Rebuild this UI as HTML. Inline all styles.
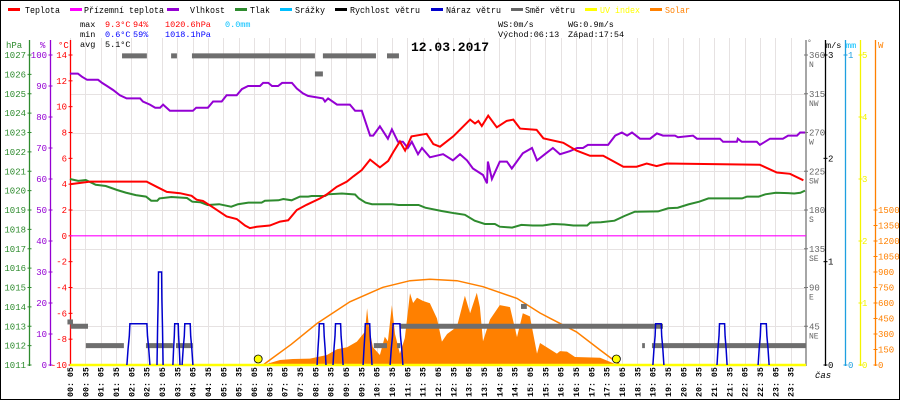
<!DOCTYPE html>
<html><head><meta charset="utf-8">
<style>
html,body{margin:0;padding:0;background:#fff;}
#wrap{width:900px;height:400px;position:relative;overflow:hidden;}
svg{display:block;font-family:"Liberation Mono",monospace;}
</style></head>
<body>
<div id="wrap">
<svg id="c" width="900" height="400" viewBox="0 0 900 400" xmlns="http://www.w3.org/2000/svg"></svg>
</div>
<script>
// ---- data ----
const tempTimes=[0.08,0.74,2.58,2.91,3.24,3.67,4.05,4.21,4.42,4.75,5.19,5.52,5.79,5.95,6.17,6.60,6.93,7.20,7.48,7.80,8.24,8.45,8.78,9.11,9.32,9.60,9.87,10.19,10.46,10.63,10.84,11.01,11.22,11.71,11.93,12.15,12.58,13.13,13.29,13.40,13.51,13.72,14.00,14.32,14.54,14.76,15.30,15.52,16.17,16.60,17.04,17.47,18.13,18.56,18.89,19.21,19.54,22.58,23.13,23.56,24.0];
const tempValues=[4.0,4.2,4.2,3.8,3.4,3.3,3.1,2.8,2.7,2.2,1.5,1.3,0.8,0.6,0.7,0.8,1.1,1.2,2.0,2.4,2.9,3.2,3.8,4.2,4.6,5.1,5.9,5.3,5.8,6.5,7.3,6.6,7.7,7.9,7.1,6.9,7.7,9.0,8.7,8.9,8.5,9.3,8.4,8.9,9.0,8.3,8.2,7.55,7.2,6.6,6.2,6.2,5.35,5.35,5.6,5.4,5.6,5.5,4.9,4.8,4.3];
const humTimes=[0.08,0.34,0.47,0.64,1.0,1.13,1.29,1.49,1.71,1.93,2.37,2.46,2.69,2.86,3.02,3.12,3.34,4.09,4.2,4.58,4.75,5.03,5.19,5.52,5.69,5.89,6.28,6.38,6.55,6.67,6.87,7.0,7.32,7.48,7.68,7.84,8.33,8.4,8.5,8.79,9.21,9.38,9.6,9.7,9.87,9.97,10.19,10.45,10.58,10.78,10.94,11.1,11.23,11.43,11.56,11.82,12.25,12.57,12.8,13.03,13.22,13.55,13.68,13.71,13.84,14.1,14.33,14.49,14.85,15.15,15.31,15.57,15.83,16.06,16.39,16.62,16.81,16.97,17.63,17.86,18.08,18.25,18.41,18.67,19.0,19.22,19.42,19.81,19.91,20.4,20.53,21.28,21.38,21.83,21.86,21.99,22.48,22.58,22.91,23.33,23.5,23.79,23.89,24.05];
const humValues=[94,94,93,92,92,91,90,88.7,87,86,86,85,84,83,83,84,82,82,83,83,85,85,87,87,89,90,90,91,91,90,90,91,91,89.2,87.6,86.8,86,85,86,84,84,82,82,79,74,74,77,73,76,72,72,70,72,68,70,67,68,66,68,66,63.4,61.3,58.6,65.6,60,65.6,65.6,63.4,68.3,70,66,68,70,68,69,70,70,71,71,74,75,74,75,73,73,74.7,74,74,73.5,74,73,73,72,72,73,72,72,71,73,73,74,74,75,75];
const presTimes=[0.08,0.35,0.6,0.92,1.25,1.62,1.9,2.23,2.56,2.73,2.93,3.0,3.39,3.9,4.07,4.34,4.57,4.95,5.34,5.56,5.9,6.33,6.44,6.88,7.04,7.31,7.58,7.85,7.96,8.4,8.5,8.95,9.38,9.5,9.72,9.93,10.6,10.8,11.45,11.67,12.2,12.63,12.96,13.28,13.61,13.94,14.1,14.5,14.8,15.17,15.5,15.83,16.2,16.5,16.95,17.05,17.4,17.84,18.16,18.5,19.26,19.59,19.9,20.25,20.6,20.9,22.0,22.16,22.54,22.76,23.1,23.5,23.7,23.9,24.05];
const presValues=[1020.6,1020.5,1020.55,1020.3,1020.24,1020.03,1019.9,1019.77,1019.69,1019.48,1019.48,1019.6,1019.67,1019.62,1019.43,1019.4,1019.26,1019.3,1019.17,1019.3,1019.38,1019.38,1019.48,1019.5,1019.57,1019.5,1019.69,1019.69,1019.72,1019.72,1019.81,1019.85,1019.8,1019.6,1019.38,1019.3,1019.3,1019.26,1019.26,1019.12,1018.95,1018.83,1018.75,1018.45,1018.28,1018.28,1018.14,1018.09,1018.23,1018.2,1018.2,1018.28,1018.25,1018.2,1018.2,1018.35,1018.37,1018.45,1018.69,1018.91,1018.93,1019.09,1019.12,1019.29,1019.43,1019.6,1019.6,1019.69,1019.69,1019.81,1019.89,1019.87,1019.85,1019.89,1020.0];
const gustStart=[1.94,2.92,3.44,3.74,8.14,8.66,9.64,10.52,19.09,21.18,22.52];
const gustEnd=[2.69,3.12,3.67,4.09,8.43,8.99,9.93,10.94,19.45,21.51,22.88];
const gustValue=[0.4,0.9,0.4,0.4,0.4,0.4,0.4,0.4,0.4,0.4,0.4];
const dirStart=[1.78,3.38,4.06,8.33,10.42,8.07,0.0,0.1,0.6,2.56,3.54,9.99,10.75,10.84,14.79,18.74,19.06];
const dirEnd=[2.59,3.57,8.07,10.06,10.81,8.33,0.18,0.67,1.84,3.44,4.09,10.42,10.85,19.42,14.98,18.83,24.08];
const dirDeg=[359,359,359,359,359,338,50,45,22.5,22.5,22.5,22.5,22.5,45,68,22.5,22.5];
const solarTimes=[6.38,6.93,7.35,7.91,8.46,8.79,9.12,9.44,9.70,9.77,9.83,9.96,10.19,10.35,10.45,10.58,10.68,10.84,11.0,11.17,11.27,11.4,11.59,11.82,12.05,12.21,12.38,12.7,12.96,13.13,13.35,13.45,13.55,13.78,14.1,14.43,14.66,14.85,15.08,15.31,15.41,15.96,16.06,16.29,16.55,17.37,17.86,18.02];
const solarValues=[0,48,58,62,97,152,171,226,322,550,370,171,97,274,230,580,300,110,260,694,600,650,620,597,450,226,300,370,670,500,700,560,230,440,580,560,270,500,470,110,213,110,135,130,77,70,10,0];
const clearTimes=[6.38,6.6,7.3,8.14,9.21,10.29,11.17,11.82,12.7,13.55,14.66,15.41,15.74,16.6,17.37,18.02];
const clearValues=[0,48,200,403,612,752,816,829,816,758,645,503,452,320,145,0];
const sunTimes=[6.22,17.9];
const timeLabels=[];for(let i=0;i<48;i++){const m=5+30*i;timeLabels.push(String(Math.floor(m/60)).padStart(2,'0')+': '+String(m%60).padStart(2,'0'));}
const tempTicks=[14,12,10,8,6,4,2,0,-2,-4,-6,-8,-10];
const humTicks=[100,90,80,70,60,50,40,30,20,10,0];
const presTicks=[1027,1026,1025,1024,1023,1022,1021,1020,1019,1018,1017,1016,1015,1014,1013,1012,1011];
const dirTicks=[360,315,270,225,180,135,90,45];
const dirNames=['N','NW','W','SW','S','SE','E','NE'];
const wsTicks=[3,2,1,0];
const uvTicks=[5,4,3,2,1,0];
const wTicks=[1500,1350,1200,1050,900,750,600,450,300,150,0];

// ---- scales ----
const X0=70,X1=806,YT=55,YB=365,PH=YB-YT;
const xOf=h=>X0+(h-5/60)*(X1-X0)/24;
const yT=t=>YT+(14-t)*PH/24;
const yH=v=>YB-v*PH/100;
const yP=p=>YB-(p-1011)*PH/16;
const yD=d=>YB-d*PH/360;
const yWS=v=>YB-v*PH/3;
const yUV=v=>YB-v*PH/5;
const ySol=w=>YB-w*155/1500;

const svg=document.getElementById('c');
const NS='http://www.w3.org/2000/svg';
function el(tag,attrs,parent){const e=document.createElementNS(NS,tag);for(const k in attrs)e.setAttribute(k,attrs[k]);(parent||svg).appendChild(e);return e;}
function txt(x,y,s,fill,size,anchor,name,extra,cw){const a=Object.assign({x:x,y:y,fill:fill,'font-size':size||9,'text-anchor':anchor||'start'},extra||{});
if(cw){a.textLength=s.length*cw;a.lengthAdjust='spacingAndGlyphs';}
const t=el('text',a);t.textContent=s;


return t;}

// border
const bd=el('rect',{x:0.5,y:0.5,width:899,height:399,fill:'none',stroke:'#000','stroke-width':1});



// grid
const grid=el('g',{stroke:'#e6e2e2','stroke-width':1});


for(let i=0;i<48;i++){const x=Math.round(xOf(5/60+i*0.5))+0.5;el('line',{x1:x,y1:38,x2:x,y2:YB},grid);}
dirTicks.forEach(d=>{if(d<360){const y=Math.round(yD(d))+0.5;el('line',{x1:X0,y1:y,x2:X1,y2:y},grid);}});

// legend
const legend=[['Teplota','#f00',8,25],['Přízemní teplota','#f0f',70,84],['Vlhkost','#9400d3',167,190],['Tlak','#2e8b2e',235,250],['Srážky','#00bfff',280,295],['Rychlost větru','#000',335,350],['Náraz větru','#0000cd',431,446],['Směr větru','#666',511,525],['UV index','#ff0',585,600],['Solar','#ff8000',650,665]];
legend.forEach(l=>{const g=el('g',{});
el('rect',{x:l[2],y:8,width:12,height:3,fill:l[1]},g);
const t=el('text',{x:l[3],y:13,'font-size':9,fill:(l[0]==='UV index'||l[0]==='Solar')?l[1]:'#000',textLength:l[0].length*5,lengthAdjust:'spacingAndGlyphs'},g);t.textContent=l[0];});

// stats
const CW=5.1;
txt(80,27,'max','#000',8.5,'start','stat-label',null,CW);
txt(105,27,'9.3°C','#f00',8.5,'start','max-temp',null,CW);
txt(133,27,'94%','#f00',8.5,'start','max-hum',null,CW);
txt(165,27,'1020.6hPa','#f00',8.5,'start','max-pres',null,CW);
txt(225,27,'0.0mm','#00bfff',8.5,'start','max-rain',null,CW);
txt(80,37,'min','#000',8.5,'start','stat-label',null,CW);
txt(105,37,'0.6°C','#00f',8.5,'start','min-temp',null,CW);
txt(133,37,'59%','#00f',8.5,'start','min-hum',null,CW);
txt(165,37,'1018.1hPa','#00f',8.5,'start','min-pres',null,CW);
txt(80,47,'avg','#000',8.5,'start','stat-label',null,CW);
txt(105,47,'5.1°C','#000',8.5,'start','avg-temp',null,CW);
txt(498,27,'WS:0m/s','#000',8.5,'start','wind-speed',null,CW);
txt(568,27,'WG:0.9m/s','#000',8.5,'start','wind-gust',null,CW);
txt(498,37,'Východ:06:13','#000',8.5,'start','sunrise',null,CW);
txt(568,37,'Západ:17:54','#000',8.5,'start','sunset',null,CW);
txt(450,51,'12.03.2017','#000',13,'middle','chart-title',{'font-weight':'bold'});

// axes left
function axis(x,color,ticks,yf,name,labelX,tickDir){const g=el('g',{});
el('line',{x1:x,y1:40,x2:x,y2:YB+1,stroke:color,'stroke-width':1.3},g);
ticks.forEach(v=>{const y=yf(v);el('line',{x1:x-2,y1:y,x2:x+2,y2:y,stroke:color,'stroke-width':1},g);
const t=el('text',{x:labelX,y:y+3,'font-size':9,fill:color,'text-anchor':tickDir},g);t.textContent=String(v);});return g;}
axis(29.5,'#2e8b2e',presTicks,yP,'pressure-axis',26,'end');
axis(50.5,'#9400d3',humTicks,yH,'humidity-axis',47,'end');
axis(70.5,'#f00',tempTicks,yT,'temperature-axis',67,'end');
txt(6,48,'hPa','#2e8b2e',9,'start','pressure-unit');
txt(40,48,'%','#9400d3',9,'start','humidity-unit');
txt(58,48,'°C','#f00',9,'start','temperature-unit');

// axes right
const dg=el('g',{});
el('line',{x1:806,y1:40,x2:806,y2:YB+1,stroke:'#777','stroke-width':1.3},dg);
dirTicks.forEach((d,i)=>{const y=yD(d);el('line',{x1:804,y1:y,x2:808,y2:y,stroke:'#777'},dg);
const a=el('text',{x:809,y:y+3,'font-size':9,fill:'#666'},dg);a.textContent=d;
const b=el('text',{x:809,y:y+12,'font-size':8,fill:'#666'},dg);b.textContent=dirNames[i];});
txt(807,45,'°','#666',8,'start','direction-unit');
axis(825.5,'#000',wsTicks,yWS,'wind-speed-axis',828,'start');
txt(826,48,'m/s','#000',8.5,'start','wind-speed-unit');
axis(845.5,'#1ea0e0',[1,0],v=>YB-v*PH,'rain-axis',848,'start');
txt(846,48,'mm','#00bfff',8.5,'start','rain-unit');
axis(860.5,'#f4f400',uvTicks,yUV,'uv-axis',862,'start');
axis(875.5,'#ff8000',wTicks,ySol,'solar-axis',878,'start');
txt(878,48,'W','#ff8000',9,'start','solar-unit');
txt(815,378,'čas','#000',9,'start','time-axis-title',{'font-style':'italic'});

// time labels
const tg=el('g',{'font-size':8.3,fill:'#000','font-weight':'bold'});
timeLabels.forEach((s,i)=>{const x=xOf(5/60+i*0.5)+3;const t=el('text',{x:0,y:0,transform:`translate(${x},397) rotate(-90)`},tg);t.textContent=s;});

// solar area
let sp='M'+xOf(solarTimes[0])+','+YB;solarTimes.forEach((h,i)=>{sp+=' L'+xOf(h).toFixed(1)+','+ySol(solarValues[i]).toFixed(1);});sp+=' L'+xOf(solarTimes[solarTimes.length-1])+','+YB+' Z';
const sa=el('path',{d:sp,fill:'#ff8000',stroke:'none'});


const cl=el('polyline',{points:clearTimes.map((h,i)=>xOf(h).toFixed(1)+','+ySol(clearValues[i]).toFixed(1)).join(' '),fill:'none',stroke:'#ff8000','stroke-width':1.5});



// zero lines
const ml=el('line',{x1:X0,y1:yT(0),x2:X1,y2:yT(0),stroke:'#f0f','stroke-width':1.2});


const yl=el('line',{x1:X0,y1:YB,x2:X1,y2:YB,stroke:'#ff0','stroke-width':2.5});



// wind direction
dirStart.forEach((s,i)=>{const r=el('rect',{x:xOf(s),y:yD(dirDeg[i])-2.5,width:Math.max(2,xOf(dirEnd[i])-xOf(s)),height:5,fill:'#6e6e6e'});

});

// gust pulses
gustStart.forEach((s,i)=>{const a=xOf(s),b=xOf(gustEnd[i]),y=yWS(gustValue[i]);const w=b-a;const st=Math.min(3,w/4);
const pts=[[a,YB],[a+st*0.4,YB-(YB-y)*0.4],[a+st*0.8,YB-(YB-y)*0.7],[a+st,y],[b-st,y],[b-st*0.8,YB-(YB-y)*0.7],[b-st*0.4,YB-(YB-y)*0.4],[b,YB]];
const p=el('polyline',{points:pts.map(q=>q[0].toFixed(1)+','+q[1].toFixed(1)).join(' '),fill:'none',stroke:'#0000cd','stroke-width':1.5});

});

// lines
function line(times,vals,yf,color,name){const p=el('polyline',{points:times.map((h,i)=>xOf(h).toFixed(1)+','+yf(vals[i]).toFixed(1)).join(' '),fill:'none',stroke:color,'stroke-width':2,'stroke-linejoin':'miter'});

}
line(presTimes,presValues,yP,'#2e8b2e','pressure-line');
line(humTimes,humValues,yH,'#9400d3','humidity-line');
line(tempTimes,tempValues,yT,'#f00','temperature-line');

// sun markers
sunTimes.forEach(h=>{const c=el('circle',{cx:xOf(h),cy:359,r:4,fill:'#ff0',stroke:'#000','stroke-width':0.8});

});
</script>
</body></html>
